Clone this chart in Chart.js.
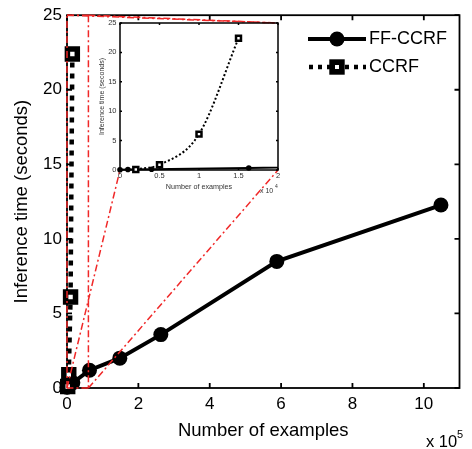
<!DOCTYPE html>
<html><head><meta charset="utf-8">
<script src="https://cdn.jsdelivr.net/npm/chart.js@4"></script>
<style>
html,body{margin:0;padding:0;background:#fff;}
#wrap{position:relative;width:472px;height:449px;overflow:hidden;}
#main{position:absolute;left:0;top:0;}
#inset{position:absolute;left:92px;top:12px;}
</style></head><body>
<div id="wrap"><canvas id="main" width="472" height="449"></canvas><canvas id="inset" width="200" height="190"></canvas></div>
<script>
// ---- data ----
const seriesNames = ['FF-CCRF', 'CCRF'];
const ffX = [0, 1000, 4000, 16300, 63000, 148000, 263000, 588000, 1048000];
const ffY = [0.05, 0.08, 0.12, 0.35, 1.19, 2.0, 3.58, 8.49, 12.27];
const ccrfX = [2000, 5000, 10000, 15000];
const ccrfY = [0.1, 0.9, 6.1, 22.4];
const mainXTicks = [0, 2, 4, 6, 8, 10];      // x 10^5
const mainYTicks = [0, 5, 10, 15, 20, 25];
const insetXTicks = [0, 0.5, 1, 1.5, 2];     // x 10^4
const insetYTicks = [0, 5, 10, 15, 20, 25];
const zoomX = [0, 60000];
const zoomY = [0, 25];

const FONT = '"Liberation Sans", Arial, sans-serif';
const pts = (xs, ys) => xs.map((x, i) => ({x: x, y: ys[i]}));

function boxPlugin(tick, lw) {
  return {
    id: 'box' + tick,
    beforeDatasetsDraw(chart) {
      const {ctx, chartArea: a, scales: {x, y}} = chart;
      ctx.save();
      ctx.fillStyle = '#fff';
      ctx.strokeStyle = '#000';
      ctx.lineWidth = lw;
      ctx.beginPath();
      x.ticks.forEach(t => {
        const px = x.getPixelForValue(t.value);
        ctx.moveTo(px, a.bottom); ctx.lineTo(px, a.bottom - tick);
        ctx.moveTo(px, a.top); ctx.lineTo(px, a.top + tick);
      });
      y.ticks.forEach(t => {
        const py = y.getPixelForValue(t.value);
        ctx.moveTo(a.left, py); ctx.lineTo(a.left + tick, py);
        ctx.moveTo(a.right, py); ctx.lineTo(a.right - tick, py);
      });
      ctx.stroke();
      ctx.strokeRect(a.left, a.top, a.right - a.left, a.bottom - a.top);
      ctx.restore();
    }
  };
}

// ---- inset ----
const insetChart = new Chart(document.getElementById('inset'), {
  type: 'line',
  data: { datasets: [
    { label: seriesNames[0], data: pts(ffX, ffY), borderColor: '#000', backgroundColor: '#000',
      borderWidth: 2, pointRadius: 2.8, pointBorderWidth: 0, pointBackgroundColor: '#000',
      clip: {left: 4, top: 0, right: 0, bottom: 4}, order: 1 },
    { label: seriesNames[1], data: pts(ccrfX, ccrfY), borderColor: '#000', borderWidth: 2,
      borderDash: [2, 2.2], cubicInterpolationMode: 'monotone', pointStyle: 'rect',
      pointRadius: 3.5, pointBorderWidth: 2.5, pointBackgroundColor: '#fff', pointBorderColor: '#000',
      clip: {left: 4, top: 0, right: 0, bottom: 4}, order: 0 }
  ]},
  options: {
    responsive: false, animation: false, devicePixelRatio: 1,
    layout: {padding: {left: 0, right: 14, top: 11, bottom: 0}},
    plugins: {legend: {display: false}, tooltip: {enabled: false}},
    scales: {
      x: { type: 'linear', min: 0, max: 20000,
        afterBuildTicks: s => { s.ticks = insetXTicks.map(v => ({value: v * 1e4})); },
        ticks: {callback: v => String(v / 1e4), font: {family: FONT, size: 7.5}, color: '#333', padding: 1.5, maxRotation: 0, autoSkip: false},
        grid: {display: false, drawTicks: false}, border: {display: false},
        title: {display: true, text: 'Number of examples', font: {family: FONT, size: 7.2}, color: '#333', padding: {top: 0, bottom: 10.5}},
        afterFit: s => { s.height = 32; } },
      y: { type: 'linear', min: 0, max: 25,
        afterBuildTicks: s => { s.ticks = insetYTicks.map(v => ({value: v})); },
        ticks: {font: {family: FONT, size: 7.5}, color: '#333', padding: 3.5, autoSkip: false},
        grid: {display: false, drawTicks: false}, border: {display: false},
        title: {display: true, text: 'Inference time (seconds)', font: {family: FONT, size: 7}, color: '#333', padding: {top: 5.8, bottom: 0}},
        afterFit: s => { s.width = 28; } }
    }
  },
  plugins: [boxPlugin(2, 1.5), {
    id: 'insetExp',
    afterDraw(chart) {
      const ctx = chart.ctx;
      ctx.save();
      ctx.fillStyle = '#333';
      ctx.textBaseline = 'alphabetic';
      ctx.font = '7px ' + FONT;
      ctx.fillText('x 10', 168, 181);
      ctx.font = '5px ' + FONT;
      ctx.fillText('4', 183, 176);
      ctx.restore();
    }
  }]
});

// ---- main ----
const INSET_OFF = {x: 92, y: 12};
const redPlugin = {
  id: 'red',
  afterDatasetsDraw(chart) {
    const {ctx, scales: {x, y}} = chart;
    const ia = insetChart.chartArea;
    const iL = ia.left + INSET_OFF.x, iR = ia.right + INSET_OFF.x;
    const iT = ia.top + INSET_OFF.y, iB = ia.bottom + INSET_OFF.y;
    const rL = x.getPixelForValue(zoomX[0]), rR = x.getPixelForValue(zoomX[1]);
    const rT = y.getPixelForValue(zoomY[1]), rB = y.getPixelForValue(zoomY[0]);
    ctx.save();
    ctx.strokeStyle = 'rgb(240,40,40)';
    ctx.lineWidth = 1.5;
    ctx.setLineDash([7, 3, 2, 3]);
    const seg = (a, b, c, d) => { ctx.beginPath(); ctx.moveTo(a, b); ctx.lineTo(c, d); ctx.stroke(); };
    seg(rL, rB, rL, rT); seg(rL, rT, rR, rT); seg(rR, rT, rR, rB); seg(rR, rB, rL, rB);
    seg(rL, rT, iR, iT);
    seg(rR, rT, iR, iT);
    seg(rL, rB, iL, iB);
    seg(rR, rB, iR, iB);
    ctx.restore();
  }
};
const legendPlugin = {
  id: 'leg',
  afterDraw(chart) {
    const ctx = chart.ctx;
    ctx.save();
    ctx.strokeStyle = '#000'; ctx.fillStyle = '#000';
    // FF-CCRF
    ctx.lineWidth = 4;
    ctx.beginPath(); ctx.moveTo(308, 39); ctx.lineTo(366, 39); ctx.stroke();
    ctx.beginPath(); ctx.arc(337, 39, 7.5, 0, Math.PI * 2); ctx.fill();
    // CCRF
    ctx.setLineDash([4, 5]);
    ctx.lineWidth = 4.5;
    ctx.beginPath(); ctx.moveTo(309, 67); ctx.lineTo(366, 67); ctx.stroke();
    ctx.setLineDash([]);
    ctx.fillStyle = '#000';
    ctx.fillRect(337 - 7.7, 67 - 7.7, 15.4, 15.4);
    ctx.fillStyle = '#fff';
    ctx.fillRect(337 - 2, 67 - 2, 4, 4);
    ctx.fillStyle = '#000';
    ctx.font = '18px ' + FONT;
    ctx.textBaseline = 'middle';
    ctx.fillText(seriesNames[0], 369, 39);
    ctx.fillText(seriesNames[1], 369, 67);
    // exponent
    ctx.textBaseline = 'alphabetic';
    ctx.font = '16.5px ' + FONT;
    ctx.fillText('x 10', 426, 447);
    ctx.font = '11px ' + FONT;
    ctx.fillText('5', 457, 438);
    ctx.restore();
  }
};

const mainChart = new Chart(document.getElementById('main'), {
  type: 'line',
  data: { datasets: [
    { label: seriesNames[0], data: pts(ffX, ffY), borderColor: '#000', backgroundColor: '#000',
      borderWidth: 4, pointRadius: 7.5, pointBorderWidth: 0, pointBackgroundColor: '#000',
      clip: false, order: 1 },
    { label: seriesNames[1], data: pts(ccrfX, ccrfY), borderColor: '#000', borderWidth: 4.5,
      borderDash: [5, 6], pointStyle: 'rect', pointRadius: 7, pointBorderWidth: 5.5,
      pointBackgroundColor: '#fff', pointBorderColor: '#000', clip: false, order: 0 }
  ]},
  options: {
    responsive: false, animation: false, devicePixelRatio: 1,
    layout: {padding: {left: 0, right: 3, top: 11, bottom: 0}},
    plugins: {legend: {display: false}, tooltip: {enabled: false}},
    scales: {
      x: { type: 'linear', min: 0, max: 1100000,
        afterBuildTicks: s => { s.ticks = mainXTicks.map(v => ({value: v * 1e5})); },
        ticks: {callback: v => String(v / 1e5), font: {family: FONT, size: 17}, color: '#000', padding: 6, maxRotation: 0, autoSkip: false},
        grid: {display: false, drawTicks: false}, border: {display: false},
        title: {display: true, text: 'Number of examples', font: {family: FONT, size: 18.5}, color: '#000', padding: {top: 0, bottom: 7}},
        afterFit: s => { s.height = 61; } },
      y: { type: 'linear', min: 0, max: 25,
        afterBuildTicks: s => { s.ticks = mainYTicks.map(v => ({value: v})); },
        ticks: {font: {family: FONT, size: 17}, color: '#000', padding: 5, autoSkip: false},
        grid: {display: false, drawTicks: false}, border: {display: false},
        title: {display: true, text: 'Inference time (seconds)', font: {family: FONT, size: 18.5}, color: '#000', padding: {top: 11, bottom: 0}},
        afterFit: s => { s.width = 67; } }
    }
  },
  plugins: [boxPlugin(5, 1.8), redPlugin, legendPlugin]
});
</script>
</body></html>
